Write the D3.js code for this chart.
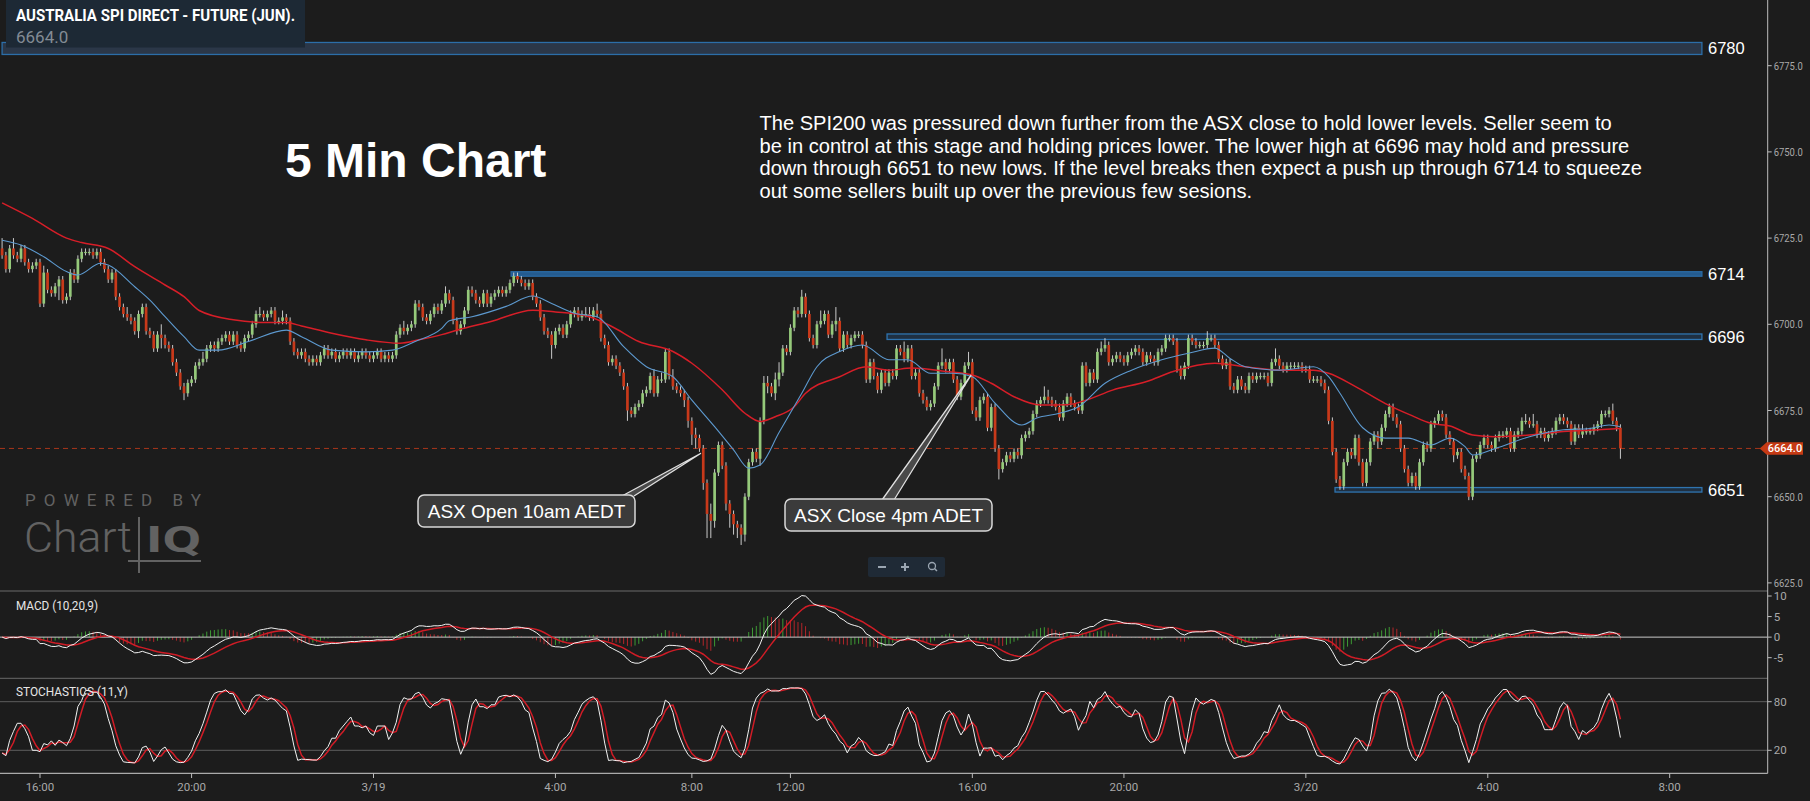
<!DOCTYPE html>
<html><head><meta charset="utf-8">
<script src="https://cdn.jsdelivr.net/npm/d3@7"></script>
<style>html,body{margin:0;padding:0;background:#1c1c1c;overflow:hidden}svg{display:block}</style>
</head><body><svg id="c" width="1810" height="801"></svg>
<script>
// ---------------- DATA ----------------
const instrument = "AUSTRALIA SPI DIRECT - FUTURE (JUN).";
const lastPrice = 6664.0;
const firstOpen = 6722;
const closes = [
6720,6716,6722,6720,6719,6722,6718,6716,6717,6718,
6706,6715,6710,6709,6711,6713,6707,6708,6715,6713,
6719,6721,6721,6721,6720,6721,6718,6716,6713,6715,
6708,6705,6703,6702,6701,6698,6703,6705,6698,6697,
6693,6697,6696,6694,6693,6689,6686,6682,6680,6683,
6684,6688,6689,6690,6693,6694,6693,6695,6696,6697,
6695,6697,6694,6693,6696,6697,6700,6703,6703,6702,
6703,6704,6701,6701,6702,6701,6695,6692,6691,6692,
6690,6689,6690,6689,6691,6693,6691,6692,6690,6691,
6692,6691,6692,6690,6691,6692,6691,6690,6691,6692,
6690,6691,6690,6691,6697,6699,6698,6699,6700,6706,
6705,6702,6701,6703,6705,6704,6706,6709,6707,6701,
6698,6700,6704,6710,6709,6707,6706,6709,6706,6708,
6709,6710,6709,6710,6712,6714,6713,6712,6711,6712,
6708,6706,6702,6698,6697,6694,6698,6699,6697,6700,
6703,6704,6702,6703,6703,6702,6704,6703,6696,6694,
6689,6690,6688,6686,6682,6675,6674,6676,6677,6680,
6681,6685,6680,6684,6684,6692,6685,6682,6681,6680,
6678,6672,6668,6667,6664,6654,6645,6643,6657,6665,
6659,6648,6645,6642,6641,6639,6650,6660,6663,6661,
6672,6683,6682,6680,6684,6686,6693,6692,6699,6704,
6703,6708,6703,6696,6694,6700,6701,6703,6697,6700,
6701,6693,6697,6694,6696,6697,6697,6694,6684,6689,
6685,6681,6686,6683,6686,6685,6693,6692,6690,6693,
6685,6686,6680,6678,6676,6677,6682,6688,6689,6687,
6689,6684,6679,6683,6688,6689,6675,6673,6678,6679,
6670,6676,6664,6658,6660,6662,6661,6663,6662,6667,
6668,6669,6674,6677,6678,6679,6678,6677,6676,6673,
6677,6679,6677,6676,6675,6688,6683,6686,6684,6692,
6693,6694,6689,6690,6691,6690,6689,6691,6692,6693,
6692,6689,6691,6690,6689,6692,6693,6696,6696,6695,
6687,6685,6688,6696,6695,6694,6694,6694,6696,6696,
6694,6690,6688,6689,6682,6681,6684,6682,6681,6685,
6684,6685,6685,6685,6683,6689,6690,6688,6687,6688,
6688,6688,6688,6687,6687,6684,6684,6684,6683,6681,
6672,6663,6655,6653,6660,6663,6662,6667,6660,6654,
6660,6666,6668,6666,6670,6674,6676,6673,6671,6664,
6658,6654,6656,6653,6660,6665,6664,6671,6672,6674,
6673,6668,6666,6662,6663,6658,6656,6650,6661,6662,
6665,6667,6665,6664,6667,6668,6668,6669,6664,6668,
6669,6672,6672,6671,6671,6668,6669,6667,6668,6669,
6672,6673,6672,6671,6666,6670,6668,6669,6669,6669,
6670,6671,6674,6674,6675,6672,6670,6664
];
// wick extension above / below the candle body, in index points
const wickUp = [
3,1,1,3,1,1,1,1,1,1, 1,2,1,1,1,1,1,1,1,1, 1,1,1,1,1,1,1,1,1,1, 1,1,1,2,1,1,1,1,1,1,
1,1,3,1,1,1,1,1,1,1, 1,1,1,2,1,1,1,1,1,1, 1,1,1,1,1,1,1,1,2,1, 1,1,1,1,2,1,1,1,1,1,
1,1,1,1,1,1,1,1,1,1, 1,1,1,1,1,1,1,1,1,1, 1,1,1,1,1,1,2,1,1,1, 1,1,1,1,1,1,1,2,1,1,
1,1,1,1,1,1,1,1,1,1, 1,1,1,1,1,1,1,1,1,1, 1,1,1,1,1,1,1,1,1,1, 1,1,1,1,2,2,1,2,1,1,
1,1,1,1,1,1,1,1,1,1, 1,1,2,1,2,1,1,2,1,1, 1,1,1,2,1,1,1,3,1,1, 1,1,1,1,1,1,1,1,1,1,
1,2,2,1,2,3,1,1,1,1, 1,2,1,1,1,1,3,1,1,1, 4,1,1,1,1,1,1,1,1,1, 1,1,1,1,1,1,1,1,3,1,
1,1,1,1,1,1,1,1,4,1, 1,1,1,1,1,3,1,1,1,1, 1,1,1,1,1,1,1,1,1,1, 1,1,1,1,1,3,2,1,1,1,
1,1,1,1,1,1,1,1,1,1, 2,2,1,1,1,1,1,1,1,1, 1,1,1,1,1,1,1,1,1,1, 1,1,1,1,1,1,1,1,2,1,
1,1,1,1,1,1,1,1,1,1, 1,1,1,1,1,1,3,1,1,1, 1,1,1,1,1,1,1,1,1,1, 1,1,1,1,1,1,1,1,1,1,
1,1,1,1,1,1,1,1,1,1, 1,1,1,1,1,1,1,1,1,1, 1,1,1,1,1,1,1,1,1,1, 1,1,1,1,1,1,1,1,1,1,
1,1,2,1,3,1,1,1,1,1, 1,1,1,1,1,1,1,2,1,1, 1,1,1,1,1,2,1,1
];
const wickDn = [
1,1,1,1,1,1,1,1,1,1, 1,1,1,1,1,4,1,1,1,1, 1,1,1,1,1,1,1,1,1,1, 1,1,1,1,1,1,2,1,1,1,
1,1,3,1,1,1,1,1,2,1, 1,1,1,1,1,1,1,1,1,1, 1,1,1,1,1,1,1,1,1,1, 1,1,1,1,1,1,1,1,1,1,
1,1,1,1,1,1,1,1,1,1, 1,1,1,1,1,1,1,1,1,1, 1,1,1,1,1,1,1,1,1,1, 1,1,1,1,1,1,1,1,1,1,
1,1,1,1,1,1,1,1,1,1, 1,1,1,1,1,1,1,1,1,1, 1,1,1,1,1,4,1,1,1,1, 1,1,1,1,1,1,1,1,1,1,
1,1,1,1,1,3,1,1,1,1, 1,1,1,1,1,1,1,1,1,1, 2,2,3,3,1,2,7,5,2,1, 1,2,4,3,3,3,2,1,1,1,
2,1,2,1,2,2,1,1,1,1, 1,1,1,1,1,1,1,1,1,1, 2,1,1,1,1,1,1,1,1,1, 1,1,1,1,1,1,1,1,1,1,
1,1,1,1,1,1,1,1,1,1, 1,1,1,1,1,1,1,1,1,1, 1,1,1,3,1,1,1,1,1,1, 1,1,1,1,1,1,1,1,1,1,
1,1,1,1,1,1,1,1,1,1, 1,1,1,1,1,1,1,1,1,1, 1,1,1,1,1,1,1,1,1,1, 1,1,1,1,1,1,1,1,1,1,
1,1,1,1,1,1,1,1,1,1, 1,1,1,1,1,1,1,1,1,1, 1,1,1,1,1,1,1,1,1,1, 1,1,1,1,1,1,1,1,1,1,
1,1,1,2,1,1,1,1,1,1, 1,1,1,1,1,1,1,1,1,1, 1,1,1,2,1,1,1,1,1,1, 1,1,1,1,1,1,1,1,1,1,
1,1,1,1,1,1,1,1,1,1, 1,1,1,1,1,1,1,1,1,1, 1,1,1,1,1,1,1,3
];
// moving averages: [bar index, price]
const maSlow = [[0,6735.2],[8,6730.7],[17,6725],[21,6723.7],[28,6722],[35,6716.7],[43,6711.4],[48,6708],[52,6704],[61,6701.3],[70,6700.5],[75,6700.5],[79,6699.5],[87,6697.4],[96,6695.5],[105,6694.5],[110,6695.5],[116,6697],[120,6698.3],[129,6700.8],[140,6704.1],[146,6703.6],[155,6702.2],[161,6699.3],[168,6695],[177,6692.1],[182,6688.7],[190,6681],[196,6674.2],[200,6671.8],[204,6673.2],[209,6676.1],[212,6680],[221,6684.8],[228,6687.7],[234,6686.7],[240,6687.3],[249,6686.3],[256,6685.3],[261,6682.9],[267,6679],[274,6676.6],[281,6676.7],[286,6678],[293,6680.9],[302,6683.4],[309,6686.3],[320,6688.7],[328,6687.7],[337,6686.7],[346,6686.7],[350,6685.8],[357,6682],[365,6677],[372,6673.5],[377,6671.3],[382,6670.5],[388,6667.9],[394,6667.4],[403,6667.9],[412,6668.9],[421,6669.4],[427,6669.8]];
const maFast = [[0,6724.4],[5,6723],[11,6719.6],[17,6715.3],[20,6714.3],[26,6717.7],[28,6717.2],[35,6710.9],[39,6707],[43,6702.2],[48,6696.4],[52,6692.5],[57,6692.5],[65,6695],[75,6698.3],[79,6696.4],[87,6692.5],[96,6692],[103,6692.5],[109,6695],[116,6698.8],[118,6701],[124,6702.2],[133,6705.2],[140,6708.2],[145,6706],[151,6703.2],[157,6702.2],[164,6693.5],[170,6687.7],[177,6684.8],[182,6678],[188,6670.3],[193,6663.6],[197,6658.3],[200,6659.2],[205,6668.6],[211,6680],[215,6687.7],[221,6692.1],[227,6694],[234,6689.7],[239,6689.7],[245,6685.8],[251,6685.8],[256,6684.8],[262,6677.1],[269,6670.8],[273,6672.8],[279,6674.2],[284,6676.1],[291,6682.9],[298,6686.7],[306,6689.7],[313,6691.6],[320,6693.1],[324,6690.1],[328,6687.7],[337,6686.7],[346,6687.7],[350,6684.8],[353,6680],[359,6670],[365,6667],[371,6667],[377,6665],[382,6667],[386,6664.5],[388,6662.1],[394,6664],[403,6667.4],[412,6669.4],[419,6669.8],[424,6670.8],[427,6670.3]];
const timeTicks = [[10,"16:00"],[50,"20:00"],[98,"3/19"],[146,"4:00"],[182,"8:00"],[208,"12:00"],[256,"16:00"],[296,"20:00"],[344,"3/20"],[392,"4:00"],[440,"8:00"]];
const priceTicks = [6775,6750,6725,6700,6675,6650,6625];
const macdTicks = [10,5,0,-5];
const stochTicks = [80,20];
const levelLabels = ["6780","6714","6696","6651"];
const levelAt = [6780,6714.6,6696.4,6652];
const levelFrom = [0,134.3,233.5,351.7];
const levelTo = 448.5;
const noteLines = [
"The SPI200 was pressured down further from the ASX close to hold lower levels. Seller seem to",
"be in control at this stage and holding prices lower. The lower high at 6696 may hold and pressure",
"down through 6651 to new lows. If the level breaks then expect a push up through 6714 to squeeze",
"out some sellers built up over the previous few sesions."
];
const callouts = [
 {text:"ASX Open 10am AEDT", tip:[184.4,6662.6]},
 {text:"ASX Close 4pm ADET", tip:[255.7,6685.3]}
];

// ---------------- SCALES ----------------
const W=1810,H=801,AX=1767.7;
const svg=d3.select('#c');
svg.append('rect').attr('width',W).attr('height',H).attr('fill','#1c1c1c');
const x=d3.scaleLinear().domain([0,440]).range([2.09,2.09+440*3.79]);
const y=d3.scaleLinear().domain([6775,6625]).range([65.7,582.9]);
const yM=d3.scaleLinear().domain([10,-5]).range([596,657.7]);
const yS=d3.scaleLinear().domain([80,20]).range([701.7,750.3]);
const SANS="'Liberation Sans', Arial, sans-serif";
const ROB="Roboto, 'Noto Sans', sans-serif";

const bars=closes.map((c,i)=>{const o=i?closes[i-1]:firstOpen;return {i,o,c,h:Math.max(o,c)+wickUp[i],l:Math.min(o,c)-wickDn[i]};});

const defs=svg.append('defs');
defs.append('clipPath').attr('id','cm').append('rect').attr('x',0).attr('y',0).attr('width',AX).attr('height',591);
defs.append('clipPath').attr('id','cd').append('rect').attr('x',0).attr('y',592).attr('width',AX).attr('height',86);
defs.append('clipPath').attr('id','cs').append('rect').attr('x',0).attr('y',679).attr('width',AX).attr('height',94);

// ---------------- WATERMARK ----------------
const wm=svg.append('g').attr('fill','#626262');
wm.append('text').attr('x',25).attr('y',506).attr('font-family',ROB).attr('font-size',17).attr('textLength',176).attr('lengthAdjust','spacing').text('POWERED BY');
wm.append('text').attr('x',24).attr('y',552).attr('font-family',ROB).attr('font-weight',300).attr('font-size',42).attr('textLength',108).attr('lengthAdjust','spacingAndGlyphs').text('Chart');
wm.append('text').attr('x',146).attr('y',552).attr('font-family',ROB).attr('font-weight',700).attr('font-size',37).attr('textLength',55).attr('lengthAdjust','spacingAndGlyphs').text('IQ');
wm.append('line').attr('x1',139).attr('x2',139).attr('y1',517).attr('y2',573).attr('stroke','#626262').attr('stroke-width',2);
wm.append('line').attr('x1',128).attr('x2',201).attr('y1',561).attr('y2',561).attr('stroke','#626262').attr('stroke-width',2);

// ---------------- TEXT ----------------
svg.append('text').attr('x',285).attr('y',177).attr('font-family',SANS).attr('font-weight',700).attr('font-size',48).attr('fill','#fff').text('5 Min Chart');
svg.append('g').selectAll('text').data(noteLines).join('text')
  .attr('x',759.5).attr('y',(d,k)=>130+k*22.5).attr('font-family',SANS).attr('font-size',20.1).attr('fill','#fff').text(d=>d);

// ---------------- MAIN PANEL ----------------
const main=svg.append('g').attr('clip-path','url(#cm)');
const bandStyle=[{h:12,fill:'#2b3748',stroke:'#2c6ea8'},{h:4.5,fill:'#245b8f',stroke:'#2a6aa3'},{h:5.5,fill:'#1f3042',stroke:'#2f74b0'},{h:4.5,fill:'#1f3042',stroke:'#2f74b0'}];
levelAt.forEach((p,k)=>{
  const s=bandStyle[k];
  main.append('rect').attr('x',x(levelFrom[k])).attr('y',y(p)-s.h/2).attr('width',x(levelTo)-x(levelFrom[k])).attr('height',s.h)
    .attr('fill',s.fill).attr('stroke',s.stroke).attr('stroke-width',1.3);
  main.append('text').attr('x',1708).attr('y',y(p)+6).attr('font-family',SANS).attr('font-size',16.5).attr('fill','#fff').text(levelLabels[k]);
});
main.append('line').attr('x1',0).attr('x2',AX-6).attr('y1',y(lastPrice)).attr('y2',y(lastPrice)).attr('stroke','#a8361b').attr('stroke-width',1).attr('stroke-dasharray','5,4');

const cg=main.append('g');
cg.selectAll('line').data(bars).join('line')
  .attr('x1',d=>x(d.i)).attr('x2',d=>x(d.i)).attr('y1',d=>y(d.h)).attr('y2',d=>y(d.l))
  .attr('stroke','#dcdcdc').attr('stroke-width',0.9);
cg.selectAll('rect').data(bars).join('rect')
  .attr('x',d=>x(d.i)-1.35).attr('width',2.7)
  .attr('y',d=>y(Math.max(d.o,d.c))).attr('height',d=>Math.max(1.2,Math.abs(y(d.o)-y(d.c))))
  .attr('fill',d=>d.c>=d.o?'#95c97a':'#c8391a');

const ln=d3.line().x(d=>x(d[0])).y(d=>y(d[1])).curve(d3.curveMonotoneX);
main.append('path').attr('d',ln(maSlow)).attr('fill','none').attr('stroke','#d71e28').attr('stroke-width',1.5);
main.append('path').attr('d',ln(maFast)).attr('fill','none').attr('stroke','#5d9ad0').attr('stroke-width',1.1);

callouts.forEach((c,k)=>{
  const tx=x(c.tip[0]), ty=y(c.tip[1]);
  const g=svg.append('g');
  const bw=[217,207][k], bx=[418,785][k], by=[495,499][k], bh=32;
  const base=[[622,634],[882,894]][k];
  g.append('path').attr('d',`M${base[0]},${by+1}L${tx},${ty}L${base[1]},${by+1}`).attr('fill','#4a4a4a').attr('stroke','#e0e0e0').attr('stroke-width',1.3);
  g.append('rect').attr('x',bx).attr('y',by).attr('width',bw).attr('height',bh).attr('rx',6)
    .attr('fill','#3b3b3b').attr('stroke','#d8d8d8').attr('stroke-width',1.5);
  g.append('text').attr('x',bx+bw/2).attr('y',by+23).attr('text-anchor','middle').attr('font-family',SANS).attr('font-size',19).attr('fill','#fff').text(c.text);
});

const zc=svg.append('g');
zc.append('rect').attr('x',868).attr('y',557).attr('width',77).attr('height',20).attr('rx',2).attr('fill','#1f2a36');
zc.append('line').attr('x1',878).attr('x2',886).attr('y1',567).attr('y2',567).attr('stroke','#9aa5b1').attr('stroke-width',2);
zc.append('line').attr('x1',901).attr('x2',909).attr('y1',567).attr('y2',567).attr('stroke','#9aa5b1').attr('stroke-width',2);
zc.append('line').attr('x1',905).attr('x2',905).attr('y1',563).attr('y2',571).attr('stroke','#9aa5b1').attr('stroke-width',2);
zc.append('circle').attr('cx',932).attr('cy',566).attr('r',3.5).attr('fill','none').attr('stroke','#9aa5b1').attr('stroke-width',1.3);
zc.append('line').attr('x1',934.5).attr('x2',937).attr('y1',568.5).attr('y2',571).attr('stroke','#9aa5b1').attr('stroke-width',1.5);

svg.append('rect').attr('x',6).attr('y',0).attr('width',299).attr('height',47.5).attr('fill','#1d2935');
svg.append('text').attr('x',16).attr('y',21).attr('font-family',ROB).attr('font-weight',700).attr('font-size',16).attr('fill','#fff')
  .attr('textLength',279).attr('lengthAdjust','spacingAndGlyphs').text(instrument);
svg.append('text').attr('x',16).attr('y',43).attr('font-family',ROB).attr('font-size',17).attr('fill','#838b94').text(lastPrice.toFixed(1));

// ---------------- MACD ----------------
function ema(a,n){const k=2/(n+1);const out=[];a.forEach((v,i)=>out.push(i?v*k+out[i-1]*(1-k):v));return out;}
const e10=ema(closes,10), e20=ema(closes,20);
const macd=closes.map((_,i)=>e10[i]-e20[i]);
const sig=ema(macd,9);
const hist=macd.map((m,i)=>m-sig[i]);
const mg=svg.append('g').attr('clip-path','url(#cd)');
mg.selectAll('line.h').data(hist).join('line').attr('class','h')
  .attr('x1',(d,i)=>x(i)).attr('x2',(d,i)=>x(i)).attr('y1',yM(0)).attr('y2',d=>yM(d))
  .attr('stroke',(d,i)=>(i===0||d>=hist[i-1])?'#3d9a34':'#b3262a').attr('stroke-width',1);
mg.append('line').attr('x1',0).attr('x2',AX).attr('y1',yM(0)).attr('y2',yM(0)).attr('stroke','#c8c8c8').attr('stroke-width',1);
const lM=d3.line().x((d,i)=>x(i)).y(d=>yM(d));
mg.append('path').attr('d',lM(sig)).attr('fill','none').attr('stroke','#d01c26').attr('stroke-width',1.5);
mg.append('path').attr('d',lM(macd)).attr('fill','none').attr('stroke','#f2f2f2').attr('stroke-width',1);
svg.append('text').attr('x',16).attr('y',610).attr('font-family',ROB).attr('font-size',12.5).attr('fill','#e6e6e6').attr('textLength',82).attr('lengthAdjust','spacingAndGlyphs').text('MACD (10,20,9)');

// ---------------- STOCHASTICS ----------------
const fastK=bars.map((b,i)=>{const w=bars.slice(Math.max(0,i-10),i+1);const hh=d3.max(w,d=>d.h),ll=d3.min(w,d=>d.l);return hh>ll?100*(b.c-ll)/(hh-ll):50;});
const sma=(a,n)=>a.map((_,i)=>d3.mean(a.slice(Math.max(0,i-n+1),i+1)));
const slowK=sma(fastK,3), dLine=sma(slowK,3);
const sg=svg.append('g').attr('clip-path','url(#cs)');
stochTicks.forEach(t=>sg.append('line').attr('x1',0).attr('x2',AX).attr('y1',yS(t)).attr('y2',yS(t)).attr('stroke','#5e5e5e').attr('stroke-width',1));
const lS=d3.line().x((d,i)=>x(i)).y(d=>yS(d));
sg.append('path').attr('d',lS(dLine)).attr('fill','none').attr('stroke','#d01c26').attr('stroke-width',1.5);
sg.append('path').attr('d',lS(slowK)).attr('fill','none').attr('stroke','#f2f2f2').attr('stroke-width',1);
svg.append('text').attr('x',16).attr('y',696).attr('font-family',ROB).attr('font-size',12.5).attr('fill','#e6e6e6').attr('textLength',112).attr('lengthAdjust','spacingAndGlyphs').text('STOCHASTICS (11,Y)');

// ---------------- SEPARATORS & AXES ----------------
[591,678.3].forEach(v=>svg.append('line').attr('x1',0).attr('x2',AX).attr('y1',v).attr('y2',v).attr('stroke','#6a6a6a').attr('stroke-width',1));
svg.append('line').attr('x1',0).attr('x2',AX).attr('y1',773.3).attr('y2',773.3).attr('stroke','#cfcfcf').attr('stroke-width',1);
svg.append('line').attr('x1',AX).attr('x2',AX).attr('y1',0).attr('y2',773.3).attr('stroke','#bdbdbd').attr('stroke-width',1);

const axisTxt=(sel)=>sel.attr('font-family',ROB).attr('fill','#a9a9a9');
const pa=svg.append('g');
priceTicks.forEach(p=>{
  pa.append('line').attr('x1',AX).attr('x2',AX+4).attr('y1',y(p)).attr('y2',y(p)).attr('stroke','#bdbdbd');
  axisTxt(pa.append('text').attr('x',AX+6).attr('y',y(p)+4).attr('font-size',11).attr('textLength',29).attr('lengthAdjust','spacingAndGlyphs').text(p.toFixed(1)));
});
macdTicks.forEach(t=>{
  pa.append('line').attr('x1',AX).attr('x2',AX+4).attr('y1',yM(t)).attr('y2',yM(t)).attr('stroke','#bdbdbd');
  axisTxt(pa.append('text').attr('x',AX+6).attr('y',yM(t)+4).attr('font-size',11.5).text(String(t)));
});
stochTicks.forEach(t=>{
  pa.append('line').attr('x1',AX).attr('x2',AX+4).attr('y1',yS(t)).attr('y2',yS(t)).attr('stroke','#bdbdbd');
  axisTxt(pa.append('text').attr('x',AX+6).attr('y',yS(t)+4).attr('font-size',11.5).text(String(t)));
});
timeTicks.forEach(([i,l])=>{
  pa.append('line').attr('x1',x(i)).attr('x2',x(i)).attr('y1',773.3).attr('y2',778).attr('stroke','#bdbdbd');
  axisTxt(pa.append('text').attr('x',x(i)).attr('y',791).attr('text-anchor','middle').attr('font-size',11.5).text(l));
});

const yc=y(lastPrice);
svg.append('path').attr('d',`M${AX-8},${yc}L${AX-1},${yc-6.3}L1803,${yc-6.3}L1803,${yc+6.3}L${AX-1},${yc+6.3}Z`).attr('fill','#c53a14');
svg.append('text').attr('x',1785).attr('y',yc+4).attr('text-anchor','middle').attr('font-family',ROB).attr('font-weight',500).attr('font-size',11).attr('fill','#fff').text(lastPrice.toFixed(1));
</script>
</body></html>
